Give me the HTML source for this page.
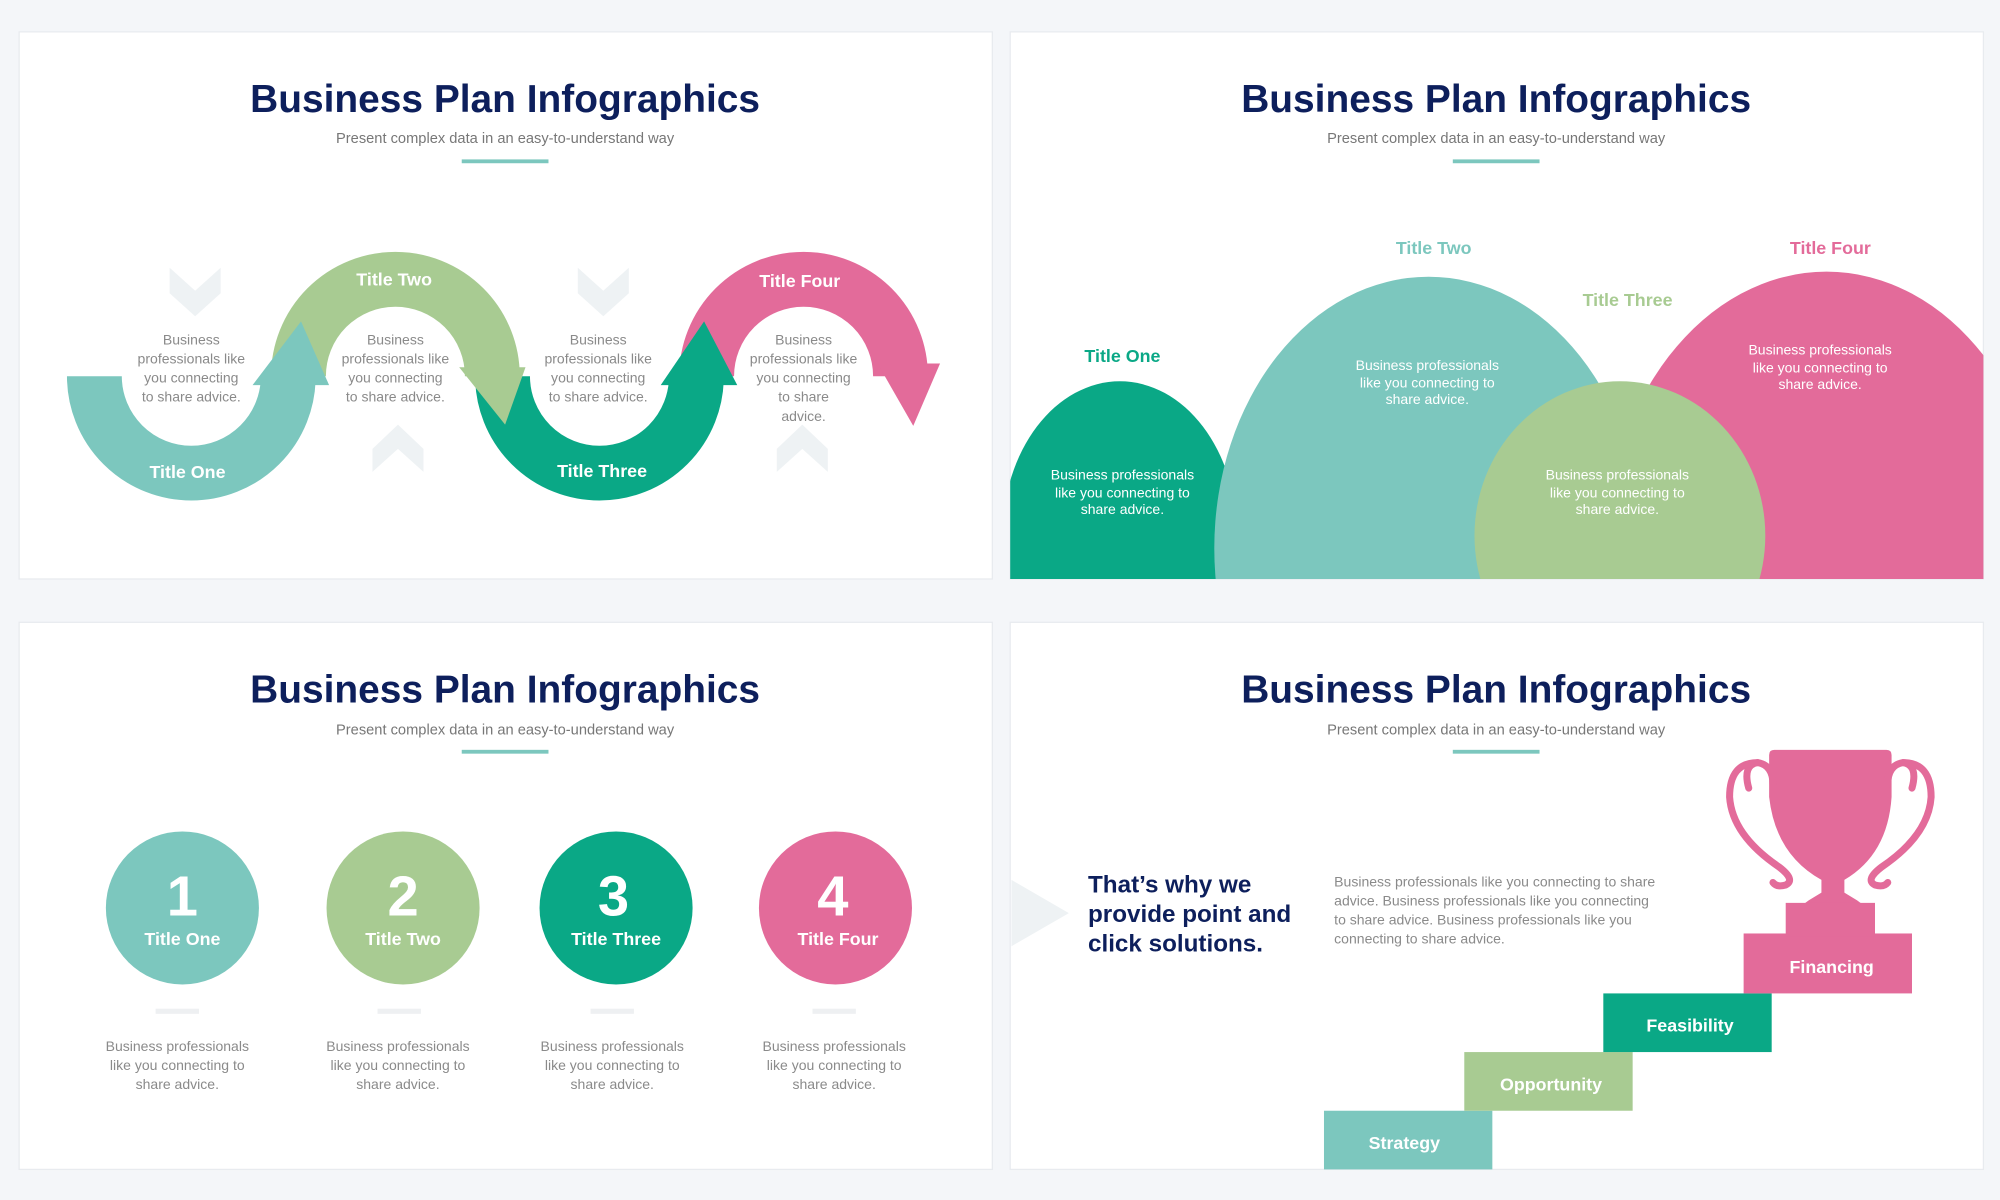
<!DOCTYPE html>
<html><head><meta charset="utf-8"><style>
html,body{margin:0;padding:0;background:#f4f6f9;}
svg{display:block;}
text{font-family:"Liberation Sans",sans-serif;}
</style></head><body>
<svg width="2000" height="1200" viewBox="0 0 1568 941" preserveAspectRatio="none" xmlns="http://www.w3.org/2000/svg">
<defs>
<clipPath id="c2"><rect x="792" y="25" width="763" height="429"/></clipPath>
</defs>
<rect width="1568" height="941" fill="#f4f6f9"/>
<g fill="#fff" stroke="#e8ebef" stroke-width="1">
<rect x="15" y="25" width="763" height="429"/>
<rect x="792" y="25" width="763" height="429"/>
<rect x="15" y="488" width="763" height="429"/>
<rect x="792" y="488" width="763" height="429"/>
</g>
<g text-anchor="middle">
<g font-weight="bold" font-size="30.5" fill="#0d1f5c">
<text x="396" y="88">Business Plan Infographics</text>
<text x="1173" y="88">Business Plan Infographics</text>
<text x="396" y="551">Business Plan Infographics</text>
<text x="1173" y="551">Business Plan Infographics</text>
</g>
<g font-size="11.5" fill="#777">
<text x="396" y="112">Present complex data in an easy-to-understand way</text>
<text x="1173" y="112">Present complex data in an easy-to-understand way</text>
<text x="396" y="576">Present complex data in an easy-to-understand way</text>
<text x="1173" y="576">Present complex data in an easy-to-understand way</text>
</g>
</g>
<g fill="#7cc7be">
<rect x="362" y="125" width="68" height="3"/><rect x="1139" y="125" width="68" height="3"/>
<rect x="362" y="588" width="68" height="3"/><rect x="1139" y="588" width="68" height="3"/>
</g>

<!-- Panel 1 -->
<g fill="#eef2f4">
<path d="M133,210 L153,228 L173,210 L173,230 L153,248 L133,230Z"/>
<path d="M453,210 L473,228 L493,210 L493,230 L473,248 L453,230Z"/>
<path d="M292,352 L312,333 L332,352 L332,370 L312,352 L292,370Z"/>
<path d="M609,352 L629,333 L649,352 L649,370 L629,352 L609,370Z"/>
</g>
<path d="M554,295 A76,76 0 0 1 706,295" stroke="#e36b9a" stroke-width="43" fill="none"/>
<path d="M688,285 L737,285 L716,334Z" fill="#e36b9a"/>
<path d="M394,295 A76,76 0 0 0 546,295" stroke="#0aa886" stroke-width="43" fill="none"/>
<path d="M518,302 L578,302 L552,252Z" fill="#0aa886"/>
<path d="M234,295 A76,76 0 0 1 386,295" stroke="#a8cb92" stroke-width="43" fill="none"/>
<path d="M360,288 L412,288 L396,333Z" fill="#a8cb92"/>
<path d="M74,295 A76,76 0 0 0 226,295" stroke="#7cc7be" stroke-width="43" fill="none"/>
<path d="M198,302 L258,302 L236,252Z" fill="#7cc7be"/>
<g text-anchor="middle" font-weight="bold" font-size="14" fill="#fff">
<text x="147" y="375">Title One</text>
<text x="309" y="224">Title Two</text>
<text x="472" y="374">Title Three</text>
<text x="627" y="225">Title Four</text>
</g>
<g text-anchor="middle" font-size="11" fill="#8a8a8a">
<text x="150" y="270">Business</text><text x="150" y="285">professionals like</text><text x="150" y="300">you connecting</text><text x="150" y="315">to share advice.</text>
<text x="310" y="270">Business</text><text x="310" y="285">professionals like</text><text x="310" y="300">you connecting</text><text x="310" y="315">to share advice.</text>
<text x="469" y="270">Business</text><text x="469" y="285">professionals like</text><text x="469" y="300">you connecting</text><text x="469" y="315">to share advice.</text>
<text x="630" y="270">Business</text><text x="630" y="285">professionals like</text><text x="630" y="300">you connecting</text><text x="630" y="315">to share</text><text x="630" y="330">advice.</text>
</g>

<!-- Panel 2 -->
<g clip-path="url(#c2)">
<ellipse cx="1432" cy="440" rx="175" ry="227" fill="#e36b9a"/>
<ellipse cx="878" cy="420" rx="92" ry="121" fill="#0aa886"/>
<ellipse cx="1120" cy="430" rx="168" ry="213" fill="#7cc7be"/>
<ellipse cx="1270" cy="420" rx="114" ry="121" fill="#a8cb92"/>
</g>
<g text-anchor="middle" font-weight="bold" font-size="14">
<text x="880" y="284" fill="#0aa886">Title One</text>
<text x="1124" y="199" fill="#7cc7be">Title Two</text>
<text x="1276" y="240" fill="#a8cb92">Title Three</text>
<text x="1435" y="199" fill="#e36b9a">Title Four</text>
</g>
<g text-anchor="middle" font-size="11" fill="#fff">
<text x="880" y="376">Business professionals</text><text x="880" y="390">like you connecting to</text><text x="880" y="403">share advice.</text>
<text x="1119" y="290">Business professionals</text><text x="1119" y="304">like you connecting to</text><text x="1119" y="317">share advice.</text>
<text x="1268" y="376">Business professionals</text><text x="1268" y="390">like you connecting to</text><text x="1268" y="403">share advice.</text>
<text x="1427" y="278">Business professionals</text><text x="1427" y="292">like you connecting to</text><text x="1427" y="305">share advice.</text>
</g>

<!-- Panel 3 -->
<circle cx="143" cy="712" r="60" fill="#7cc7be"/>
<circle cx="316" cy="712" r="60" fill="#a8cb92"/>
<circle cx="483" cy="712" r="60" fill="#0aa886"/>
<circle cx="655" cy="712" r="60" fill="#e36b9a"/>
<g text-anchor="middle" font-weight="bold" fill="#fff">
<g font-size="44"><text x="143" y="718">1</text><text x="316" y="718">2</text><text x="481" y="718">3</text><text x="653" y="718">4</text></g>
<g font-size="14"><text x="143" y="741">Title One</text><text x="316" y="741">Title Two</text><text x="483" y="741">Title Three</text><text x="657" y="741">Title Four</text></g>
</g>
<g fill="#eef0f2"><rect x="122" y="791" width="34" height="4"/><rect x="296" y="791" width="34" height="4"/><rect x="463" y="791" width="34" height="4"/><rect x="637" y="791" width="34" height="4"/></g>
<g text-anchor="middle" font-size="11" fill="#8a8a8a">
<text x="139" y="824">Business professionals</text><text x="139" y="839">like you connecting to</text><text x="139" y="854">share advice.</text>
<text x="312" y="824">Business professionals</text><text x="312" y="839">like you connecting to</text><text x="312" y="854">share advice.</text>
<text x="480" y="824">Business professionals</text><text x="480" y="839">like you connecting to</text><text x="480" y="854">share advice.</text>
<text x="654" y="824">Business professionals</text><text x="654" y="839">like you connecting to</text><text x="654" y="854">share advice.</text>
</g>

<!-- Panel 4 -->
<path d="M793,690 L838,716 L793,742Z" fill="#eef2f4"/>
<g font-weight="bold" font-size="19" fill="#0d1f5c">
<text x="853" y="700">That’s why we</text><text x="853" y="723">provide point and</text><text x="853" y="746">click solutions.</text>
</g>
<g font-size="11" fill="#8a8a8a">
<text x="1046" y="695">Business professionals like you connecting to share</text>
<text x="1046" y="710">advice. Business professionals like you connecting</text>
<text x="1046" y="725">to share advice. Business professionals like you</text>
<text x="1046" y="740">connecting to share advice.</text>
</g>
<rect x="1038" y="871" width="132" height="46" fill="#7cc7be"/>
<rect x="1148" y="825" width="132" height="46" fill="#a8cb92"/>
<rect x="1257" y="779" width="132" height="46" fill="#0aa886"/>
<rect x="1367" y="732" width="132" height="47" fill="#e36b9a"/>
<g fill="#e36b9a">
<path d="M1387,592 Q1387,588 1391,588 L1479,588 Q1483,588 1483,592 L1483,625 Q1480,670 1446,690 L1446,700 L1456,706 L1464,712 L1410,712 L1418,706 L1428,700 L1428,690 Q1392,670 1387,625 Z"/>
<rect x="1400" y="708" width="70" height="26"/>
</g>
<g fill="none" stroke="#e36b9a" stroke-width="5.5" stroke-linecap="round">
<path d="M1371,618 Q1366,600 1378,598 Q1390,600 1390,615"/>
<path d="M1378,598 Q1356,598 1356,625 Q1358,655 1395,680 Q1408,690 1400,694 Q1393,696 1390,692"/>
<path d="M1499,618 Q1504,600 1492,598 Q1480,600 1480,615"/>
<path d="M1492,598 Q1514,598 1514,625 Q1512,655 1475,680 Q1462,690 1470,694 Q1477,696 1480,692"/>
</g>
<g text-anchor="middle" font-weight="bold" font-size="14" fill="#fff">
<text x="1101" y="901">Strategy</text>
<text x="1216" y="855">Opportunity</text>
<text x="1325" y="809">Feasibility</text>
<text x="1436" y="763">Financing</text>
</g>
</svg>
</body></html>
